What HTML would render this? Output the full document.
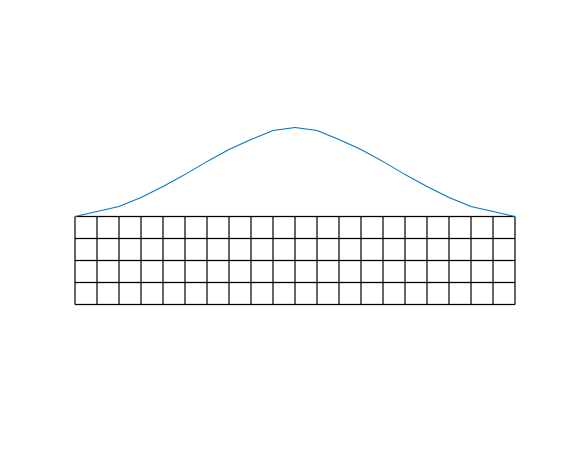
<!DOCTYPE html>
<html><head><meta charset="utf-8"><style>html,body{margin:0;background:#fff;}svg{display:block;}</style></head>
<body>
<svg id="chart" width="570" height="450" viewBox="0 0 570 450"></svg>
<script>
const columns = 20;
const rows = 4;
const curveHeights = [0,5,10,19,30,42,55,67,77,86,89,86,77,67,55,42,30,19,10,5,0];
const svg = document.getElementById('chart');
const NS = 'http://www.w3.org/2000/svg';
const x0 = 75, y0 = 216.5, cell = 22;
const xs = i => x0 + i * cell;
const ys = h => y0 - h;
const grid = document.createElementNS(NS, 'g');


svg.appendChild(grid);
for (let i = 0; i <= columns; i++) {
  const l = document.createElementNS(NS, 'line');
  
  
  l.setAttribute('x1', xs(i)); l.setAttribute('x2', xs(i));
  l.setAttribute('y1', y0); l.setAttribute('y2', y0 + rows * cell);
  l.setAttribute('stroke', '#000'); l.setAttribute('stroke-width', '1.2');
  grid.appendChild(l);
}
for (let j = 0; j <= rows; j++) {
  const l = document.createElementNS(NS, 'line');
  
  
  l.setAttribute('x1', xs(0)); l.setAttribute('x2', xs(columns));
  l.setAttribute('y1', y0 + j * cell); l.setAttribute('y2', y0 + j * cell);
  l.setAttribute('stroke', '#000'); l.setAttribute('stroke-width', '1.2');
  grid.appendChild(l);
}
const p = document.createElementNS(NS, 'polyline');


p.setAttribute('points', curveHeights.map((h, i) => xs(i * columns / (curveHeights.length - 1)) + ',' + ys(h)).join(' '));
p.setAttribute('fill', 'none'); p.setAttribute('stroke', '#0072bd'); p.setAttribute('stroke-width', '1');
svg.appendChild(p);
</script>
</body></html>
